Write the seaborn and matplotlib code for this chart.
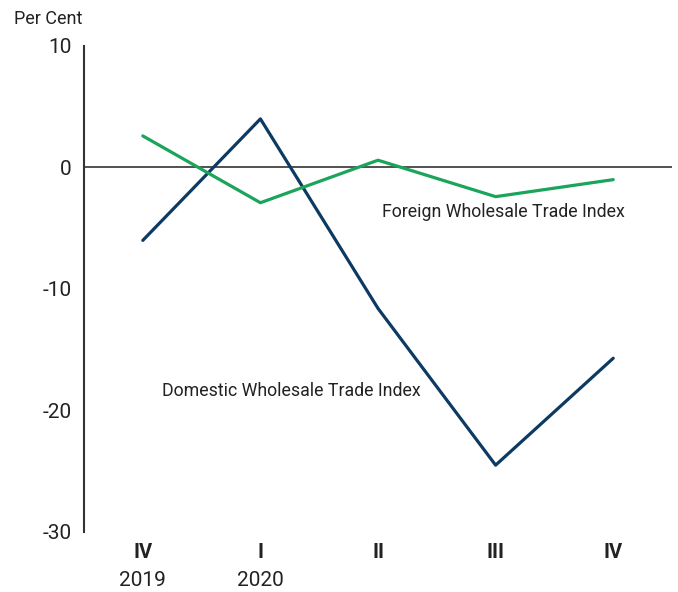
import pandas as pd
import matplotlib.pyplot as plt
import matplotlib.transforms as mtrans
import seaborn as sns

# dados
trimestres = ['IV', 'I', 'II', 'III', 'IV']
anos = ['2019', '2020', '', '', '']
domestico = [-6.0, 4.0, -11.6, -24.5, -15.7]
estrangeiro = [2.6, -2.9, 0.6, -2.4, -1.0]

verde = '#1AA55A'
azul_marinho = '#0D3A62'
cinza_texto = '#222222'

sns.set_theme(style='white')
plt.rcParams['font.family'] = ['Roboto', 'DejaVu Sans']

df = pd.DataFrame({
    'pos': list(range(len(trimestres))) * 2,
    'valor': domestico + estrangeiro,
    'serie': ['Domestic'] * len(domestico) + ['Foreign'] * len(estrangeiro),
})

fig = plt.figure(figsize=(6.78, 5.92), dpi=100)
ax = fig.add_axes([0.1239, 0.1014, 0.8673, 0.8209])

sns.lineplot(data=df, x='pos', y='valor', hue='serie',
             palette={'Domestic': azul_marinho, 'Foreign': verde},
             linewidth=2.3, legend=False, ax=ax)

ax.axhline(0, color='#333333', linewidth=1.2, zorder=0)

ax.set_xlim(-0.5, 4.5)
ax.set_ylim(-30, 10)
ax.set_yticks([10, 0, -10, -20, -30])
ax.set_yticklabels(['10', '0', '-10', '-20', '-30'])
ax.tick_params(axis='y', length=0, pad=9, labelsize=15, labelcolor=cinza_texto)
ax.set_xticks([])
ax.set_xlabel('')
ax.set_ylabel('')

for lado in ['top', 'right', 'bottom']:
    ax.spines[lado].set_visible(False)
ax.spines['left'].set_color('#333333')
ax.spines['left'].set_linewidth(1.5)

# rotulos do eixo x (trimestre em negrito, ano abaixo)
trans = mtrans.blended_transform_factory(ax.transData, fig.transFigure)
for i, (q, a) in enumerate(zip(trimestres, anos)):
    ax.text(i, 1 - 553 / 592, q, transform=trans, ha='center', va='center',
            fontsize=14.5, fontweight='bold', color=cinza_texto)
    if a:
        ax.text(i, 1 - 581 / 592, a, transform=trans, ha='center', va='center',
                fontsize=15, color=cinza_texto)

fig.text(14 / 678, 1 - 19 / 592, 'Per Cent', ha='left', va='center',
         fontsize=13, color=cinza_texto)

ax.text(3.07, -3.7, 'Foreign Wholesale Trade Index', ha='center', va='center',
        fontsize=12.8, color=cinza_texto)
ax.text(1.26, -18.4, 'Domestic Wholesale Trade Index', ha='center', va='center',
        fontsize=12.8, color=cinza_texto)

fig.savefig('out.png', dpi=100, facecolor='white')
